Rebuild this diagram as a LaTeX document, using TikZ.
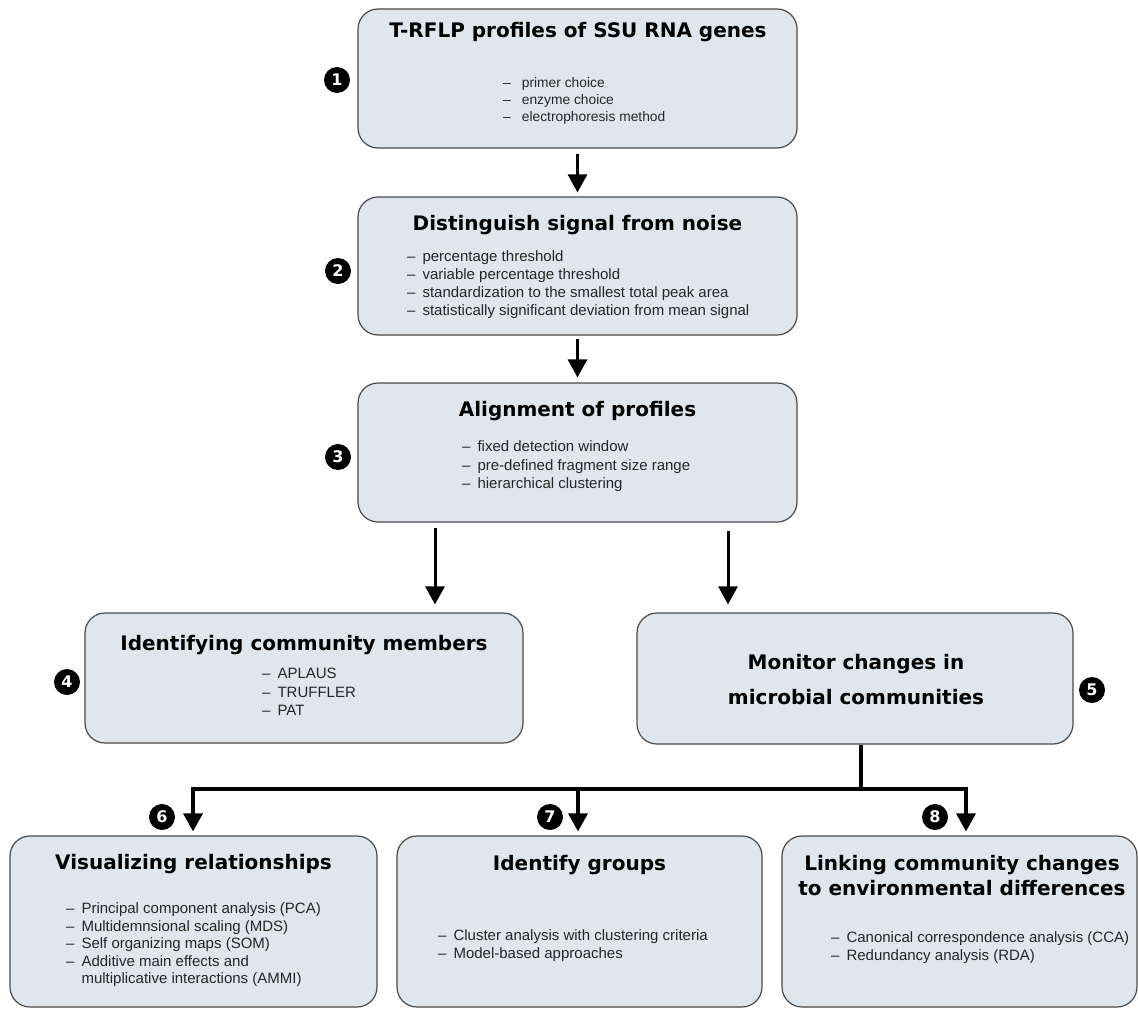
\documentclass[tikz,border=0pt]{standalone}
\usepackage{fontspec}
\setmainfont{Liberation Sans}
\newfontfamily\titlefont{DejaVu Sans}
\usetikzlibrary{arrows.meta,calc}
\definecolor{boxfill}{HTML}{DFE6EE}
\definecolor{boxline}{HTML}{4A4A4A}
\newcommand\li[1]{–\hspace{7pt}#1}
\newcommand\lc[1]{\hphantom{–\hspace{7pt}}#1}
\tikzset{
  box/.style={draw=boxline, line width=1.2pt, fill=boxfill, rounded corners=20pt, inner sep=0pt},
  ttl/.style={font=\titlefont\bfseries\fontsize{20}{24}\selectfont, anchor=base, inner sep=0pt},
  itm/.style={font=\fontsize{15}{18}\selectfont, anchor=base west, inner sep=0pt, text=black!85},
  itms/.style={itm, font=\fontsize{13.8}{17}\selectfont},
  num/.style={circle, fill=black, minimum size=26pt, inner sep=0pt, text=white, font=\titlefont\bfseries\fontsize{16}{16}\selectfont},
  arr/.style={line width=3pt, -{Triangle[width=19pt,length=18pt]}},
  conn/.style={line width=3.5pt},
}
\begin{document}
\begin{tikzpicture}[x=1pt,y=-1pt]
\useasboundingbox[fill=white] (0,0) rectangle (1138,1009);

% boxes
\node[box, minimum width=439pt, minimum height=139pt] (B1) at (577.5,78.5) {};
\node[box, minimum width=439pt, minimum height=138pt] (B2) at (577.5,266) {};
\node[box, minimum width=439pt, minimum height=139pt] (B3) at (577.5,452.5) {};
\node[box, minimum width=438pt, minimum height=130pt] (B4) at (304,678) {};
\node[box, minimum width=436pt, minimum height=131pt] (B5) at (855,678.5) {};
\node[box, minimum width=367pt, minimum height=171pt] (B6) at (193.5,921.5) {};
\node[box, minimum width=365pt, minimum height=171pt] (B7) at (579.5,921.5) {};
\node[box, minimum width=355pt, minimum height=171pt] (B8) at (959.5,921.5) {};

% numbers
\node[num] (n1) at (337,80) {1};
\node[num] (n2) at (338,271) {2};
\node[num] (n3) at (338,457) {3};
\node[num] (n4) at (67,682) {4};
\node[num] (n5) at (1092,690) {5};
\node[num] (n6) at (162,817) {6};
\node[num] (n7) at (550,817) {7};
\node[num] (n8) at (935,817) {8};

% box 1
\node[ttl] (t1) at (578,37) {T-RFLP profiles of SSU RNA genes};
\node[itms] (i11) at (503,87) {–\hspace{11pt}primer choice};
\node[itms] (i12) at (503,104) {–\hspace{11pt}enzyme choice};
\node[itms] (i13) at (503,121) {–\hspace{11pt}electrophoresis method};

% box 2
\node[ttl] (t2) at (577.5,230) {Distinguish signal from noise};
\node[itm] (i21) at (407,261) {\li{percentage threshold}};
\node[itm] (i22) at (407,279) {\li{variable percentage threshold}};
\node[itm] (i23) at (407,297) {\li{standardization to the smallest total peak area}};
\node[itm] (i24) at (407,315) {\li{statistically significant deviation from mean signal}};

% box 3
\node[ttl] (t3) at (577.5,416) {Alignment of profiles};
\node[itm] (i31) at (462,451) {\li{fixed detection window}};
\node[itm] (i32) at (462,470) {\li{pre-defined fragment size range}};
\node[itm] (i33) at (462,488) {\li{hierarchical clustering}};

% box 4
\node[ttl] (t4) at (304,650) {Identifying community members};
\node[itm] (i41) at (262,678) {\li{APLAUS}};
\node[itm] (i42) at (262,697) {\li{TRUFFLER}};
\node[itm] (i43) at (262,715) {\li{PAT}};

% box 5
\node[ttl] (t5a) at (856,669) {Monitor changes in};
\node[ttl] (t5b) at (856,704) {microbial communities};

% box 6
\node[ttl] (t6) at (193.5,869) {Visualizing relationships};
\node[itm] (i61) at (66,913) {\li{Principal component analysis (PCA)}};
\node[itm] (i62) at (66,931) {\li{Multidemnsional scaling (MDS)}};
\node[itm] (i63) at (66,948) {\li{Self organizing maps (SOM)}};
\node[itm] (i64) at (66,966) {\li{Additive main effects and}};
\node[itm] (i65) at (66,983) {\lc{multiplicative interactions (AMMI)}};

% box 7
\node[ttl] (t7) at (579.5,870) {Identify groups};
\node[itm] (i71) at (438,940) {\li{Cluster analysis with clustering criteria}};
\node[itm] (i72) at (438,958) {\li{Model-based approaches}};

% box 8
\node[ttl] (t8a) at (962,870) {Linking community changes};
\node[ttl] (t8b) at (962,895) {to environmental differences};
\node[itm] (i81) at (831,942) {\li{Canonical correspondence analysis (CCA)}};
\node[itm] (i82) at (831,960) {\li{Redundancy analysis (RDA)}};

% connectors
\draw[arr, shorten <=5pt, shorten >=4pt] (B1) -- (B2);
\draw[arr, shorten <=3pt, shorten >=5pt] (B2) -- (B3);
\coordinate (xL) at (435,0);
\coordinate (xR) at (728,0);
\draw[arr, shorten <=5pt, shorten >=8pt] (B3.south -| xL) -- (B4.north -| xL);
\draw[arr, shorten <=8pt, shorten >=8pt] (B3.south -| xR) -- (B5.north -| xR);

\coordinate (J) at (861,789);
\coordinate (L6) at (193,789);
\coordinate (L7) at (578,789);
\coordinate (L8) at (966,789);
\draw[conn] (B5.south -| J) -- (J);
\draw[arr, line width=3.5pt, shorten >=4pt] (J) -| (B6.north -| L6);
\draw[arr, line width=3.5pt, shorten >=4pt] (J) -| (B8.north -| L8);
\draw[arr, line width=3.5pt, shorten >=4pt] (L7) -- (B7.north -| L7);
\end{tikzpicture}
\end{document}
